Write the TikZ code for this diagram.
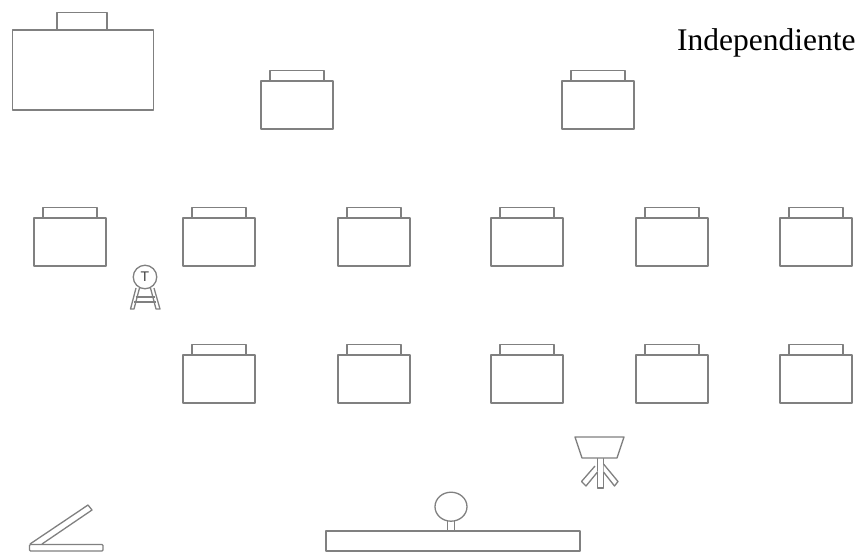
\documentclass[tikz,border=0pt]{standalone}
\usepackage{fontspec}
\usetikzlibrary{shapes.geometric}
\setmainfont{Liberation Serif}
\newfontfamily\tfont{Liberation Sans}
\definecolor{ln}{gray}{0.5}
\tikzset{
  plan/.style={draw=ln,line width=1.3pt,line join=round,fill=white},
  pics/desk/.style={code={
    \draw[plan] (9,0) rectangle (63,-10.5);
    \draw[plan] (0,0) rectangle (72,48);
  }}
}
\begin{document}
\begin{tikzpicture}[x=1pt,y=-1pt]
\useasboundingbox (0,0) rectangle (860,552);
% teacher's desk
\draw[plan] (57,12.5) rectangle (107,30);
\draw[plan] (12.5,30) rectangle (153.5,110);
% desks
\foreach \px/\py in {261/81,562/81,
  34/218,183/218,338/218,491/218,636/218,780/218,
  183/355,338/355,491/355,636/355,780/355}
  \pic at (\px,\py) {desk};
% person with T
\draw[plan] (136,288) -- (130.5,309) -- (134,309) -- (139.5,288);
\draw[plan] (150.5,288) -- (156,309) -- (160,309) -- (154,288);
\draw[plan] (135.5,297) -- (154.5,297) (134,302) -- (156,302);
\node[draw=ln,line width=1.3pt,fill=white,circle,minimum size=23.5pt,inner sep=0pt,text=black!75,font=\tfont\fontsize{14}{14}\selectfont] (t) at (145,277) {T};
% projector
\draw[plan] (597.5,458) -- (597.5,488) -- (603.5,488) -- (603.5,458);
\draw[plan] (595,466) -- (581.5,481.5) -- (586,486) -- (597.5,472);
\draw[plan] (603.5,464) -- (618,481.5) -- (614.5,486) -- (603.5,472);
\draw[plan] (575,437) -- (624,437) -- (617,458) -- (582,458) -- cycle;
% board
\draw[plan] (447.5,518) -- (447.5,531) (454.5,518) -- (454.5,531);
\draw[plan] (326,531) rectangle (580,551);
\node[draw=ln,line width=1.3pt,fill=white,ellipse,minimum width=32pt,minimum height=29pt,inner sep=0pt] (lamp) at (451,506.7) {};
% open lid
\draw[plan] (30,544) -- (88,505) -- (92,510) -- (42,544);
\draw[plan,rounded corners=1pt] (29.5,544.5) rectangle (103,551);
% label
\node[anchor=base west,inner sep=0pt,text=black,font=\fontsize{31.5}{31.5}\selectfont] (lbl) at (677,50) {Independiente};
\end{tikzpicture}
\end{document}
